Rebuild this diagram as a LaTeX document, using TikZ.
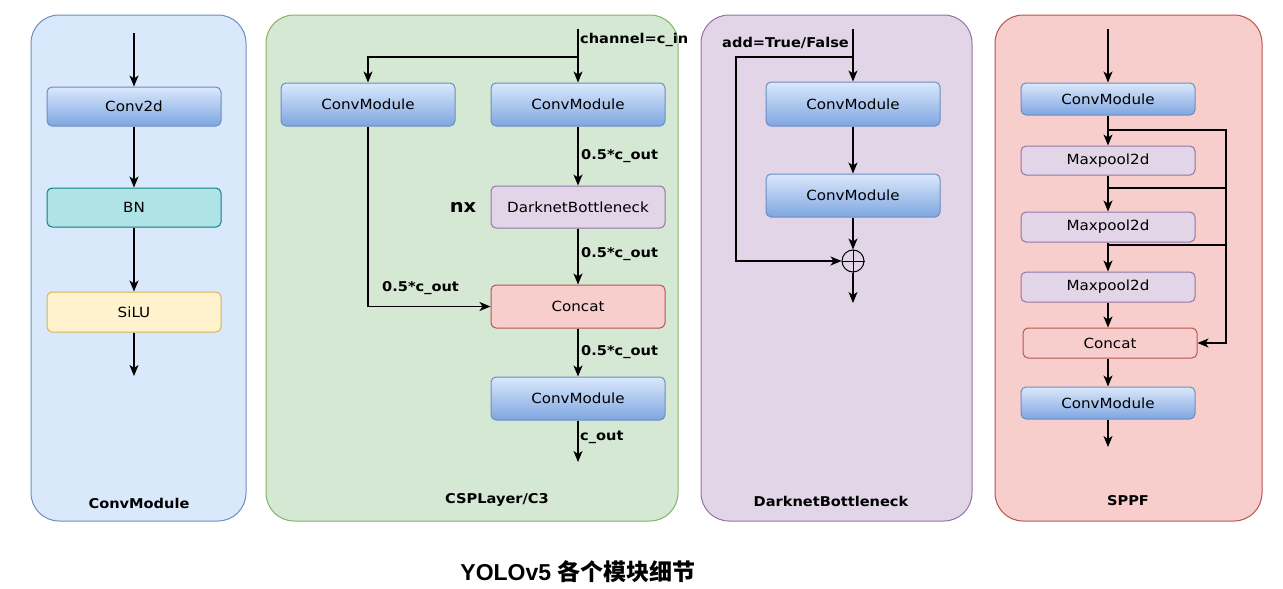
\documentclass[tikz,border=0pt]{standalone}
\usepackage{fontspec}
\setmainfont{DejaVu Sans}[FakeStretch=1.08]
\newfontfamily\cjk{Noto Sans CJK SC}
\newfontfamily\titlefont{Liberation Sans}
\usetikzlibrary{arrows.meta}
\definecolor{cvtop}{HTML}{DAE8FC}
\definecolor{cvbot}{HTML}{7EA6E0}
\definecolor{cvline}{HTML}{6C8EBF}
\definecolor{bluefill}{HTML}{DAE8FC}
\definecolor{greenfill}{HTML}{D5E8D4}
\definecolor{greenline}{HTML}{82B366}
\definecolor{purplefill}{HTML}{E1D5E7}
\definecolor{purpleline}{HTML}{9673A6}
\definecolor{redfill}{HTML}{F8CECC}
\definecolor{redline}{HTML}{B85450}
\definecolor{tealfill}{HTML}{B0E3E6}
\definecolor{tealline}{HTML}{0E8088}
\definecolor{yellowfill}{HTML}{FFF2CC}
\definecolor{yellowline}{HTML}{D6B656}
\tikzset{
  panel/.style={draw, rounded corners=28pt, line width=1pt, inner sep=0pt, minimum height=506pt},
  blk/.style={draw, rounded corners=5pt, line width=1pt, inner sep=0pt, minimum width=174pt, font=\fontsize{14}{16}\selectfont},
  conv/.style={blk, top color=cvtop, bottom color=cvbot, draw=cvline},
  pool/.style={blk, fill=purplefill, draw=purpleline},
  cat/.style={blk, fill=redfill, draw=redline},
  arr/.style={-{Stealth[length=11pt,width=9pt,inset=3pt]}, line width=1.3pt},
  ln/.style={line width=1.3pt},
  lbl/.style={font=\bfseries\fontsize{13.5}{15}\selectfont, anchor=west, inner sep=0pt},
  ptitle/.style={font=\bfseries\fontsize{13.5}{15}\selectfont, inner sep=0pt},
}
\begin{document}
\begin{tikzpicture}[x=1pt,y=-1pt]
\useasboundingbox (0,0) rectangle (1283,589);
% panels
\node[panel, fill=bluefill, draw=cvline, minimum width=215pt] (p1) at (138.5,268) {};
\node[panel, fill=greenfill, draw=greenline, minimum width=412pt] (p2) at (472,268) {};
\node[panel, fill=purplefill, draw=purpleline, minimum width=271pt] (p3) at (836.5,268) {};
\node[panel, fill=redfill, draw=redline, minimum width=267pt] (p4) at (1128.5,268) {};
\node[ptitle] (t1) at (139,503) {ConvModule};
\node[ptitle] (t2) at (497,500) {CSPLayer/C3};
\node[ptitle] (t3) at (831,501) {DarknetBottleneck};
\node[ptitle] (t4) at (1128,501) {SPPF};

% ConvModule panel
\coordinate (in1) at (134,33);
\coordinate (out1) at (134,376);
\node[conv, minimum height=39pt] (conv2d) at (134,106.5) {Conv2d};
\node[blk, fill=tealfill, draw=tealline, minimum height=39pt] (bn) at (134,207.5) {BN};
\node[blk, fill=yellowfill, draw=yellowline, minimum height=40pt] (silu) at (134,312) {SiLU};
\draw[arr] (in1) -- (conv2d);
\draw[arr] (conv2d) -- (bn);
\draw[arr] (bn) -- (silu);
\draw[arr] (silu) -- (out1);

% CSP panel
\coordinate (cin) at (578,29);
\coordinate (cbp) at (578,57);
\coordinate (cout) at (578,462);
\node[conv, minimum height=43pt] (cmL) at (368,104.5) {ConvModule};
\node[conv, minimum height=43pt] (cmR) at (578,104.5) {ConvModule};
\node[pool, minimum height=42pt] (db) at (578,207) {DarknetBottleneck};
\node[cat, minimum height=43pt] (ccat) at (578,306.5) {Concat};
\node[conv, minimum height=43pt] (cmO) at (578,398.5) {ConvModule};
\node[font=\bfseries\fontsize{18}{20}\selectfont, inner sep=0pt] (nx) at (463,207) {nx};
\draw[arr] (cin) -- (cmR);
\draw[arr] (cbp) -| (cmL);
\draw[arr] (cmR) -- (db);
\draw[arr] (db) -- (ccat);
\draw[arr] (cmL) |- (ccat);
\draw[arr] (ccat) -- (cmO);
\draw[arr] (cmO) -- (cout);
\node[lbl] (lcin) at (580,40) {channel=c\_in};
\node[lbl] (l1) at (581,156) {0.5*c\_out};
\node[lbl] (l2) at (581,254) {0.5*c\_out};
\node[lbl] (l3) at (382,288) {0.5*c\_out};
\node[lbl] (l4) at (581,352) {0.5*c\_out};
\node[lbl] (l5) at (580,437) {c\_out};

% DarknetBottleneck panel
\coordinate (din) at (853,29);
\coordinate (dbp) at (853,57);
\coordinate (dk1) at (736,57);
\coordinate (dk2) at (736,261);
\coordinate (dout) at (853,303);
\node[conv, minimum height=44pt] (d1) at (853,104) {ConvModule};
\node[conv, minimum height=43pt] (d2) at (853,195.5) {ConvModule};
\node[circle, draw, line width=1pt, minimum size=22pt, inner sep=0pt] (plus) at (853,261) {};
\draw[line width=1pt] (plus.north) -- (plus.south) (plus.west) -- (plus.east);
\draw[arr] (din) -- (d1);
\draw[arr] (d1) -- (d2);
\draw[arr] (d2) -- (plus);
\draw[arr] (dbp) -- (dk1) -- (dk2) -- (plus);
\draw[arr] (plus) -- (dout);
\node[lbl, anchor=east] (ladd) at (849,43) {add=True/False};

% SPPF panel
\coordinate (sin) at (1108,29);
\coordinate (sout) at (1108,447);
\coordinate (b1) at (1108,130);
\coordinate (b2) at (1108,188);
\coordinate (b3) at (1108,245);
\coordinate (r1) at (1226,130);
\coordinate (r2) at (1226,188);
\coordinate (r3) at (1226,245);
\node[conv, minimum height=32pt] (s1) at (1108,99) {ConvModule};
\node[pool, minimum height=29pt] (mp1) at (1108,160.5) {Maxpool2d};
\node[pool, minimum height=30pt] (mp2) at (1108,227) {Maxpool2d};
\node[pool, minimum height=30pt] (mp3) at (1108,287) {Maxpool2d};
\node[cat, minimum height=30pt] (scat) at (1110,343) {Concat};
\node[conv, minimum height=32pt] (s2) at (1108,403) {ConvModule};
\draw[arr] (sin) -- (s1);
\draw[arr] (s1) -- (mp1);
\draw[arr] (mp1) -- (mp2);
\draw[arr] (mp2) -- (mp3);
\draw[arr] (mp3) -- (mp3 |- scat.north);
\draw[arr] (scat.south -| s2) -- (s2);
\draw[arr] (s2) -- (sout);
\draw[ln] (b2) -- (r2);
\draw[ln] (b3) -- (r3);
\draw[arr] (b1) -- (r1) |- (scat);

% title
\node[font=\bfseries\fontsize{23}{26}\selectfont, inner sep=0pt] (title) at (578,572) {\titlefont YOLOv5 {\cjk 各个模块细节}};
\end{tikzpicture}
\end{document}
